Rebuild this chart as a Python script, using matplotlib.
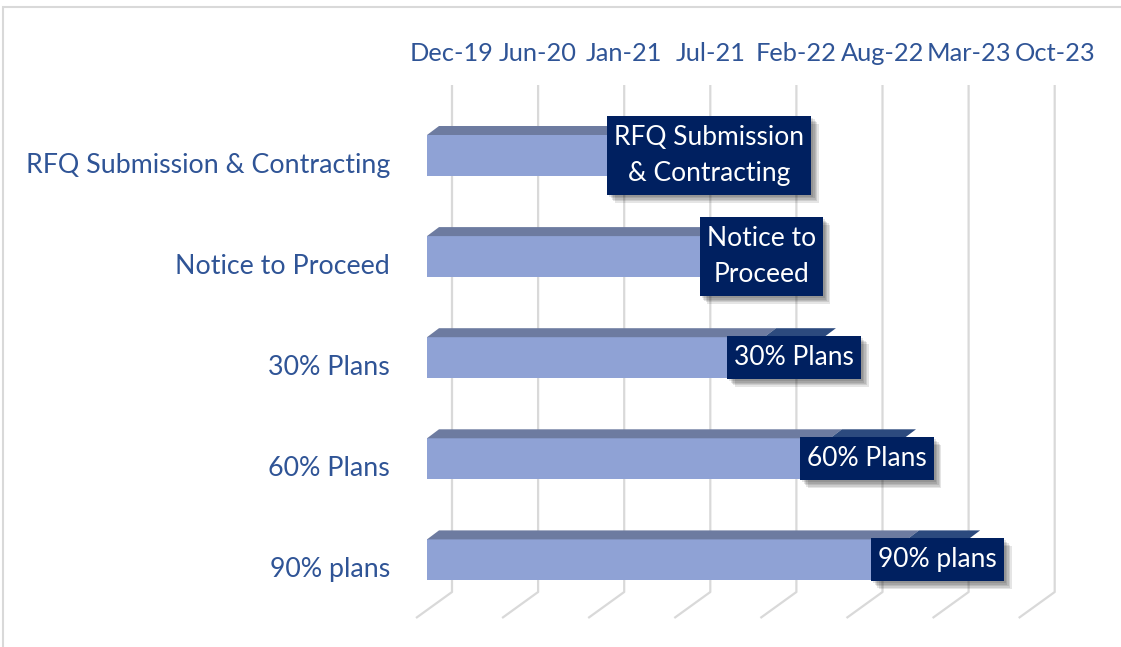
import matplotlib
matplotlib.use("Agg")
import matplotlib.pyplot as plt
import matplotlib.dates as mdates
import matplotlib.patheffects as pe
from matplotlib.patches import Polygon, Rectangle
from datetime import datetime

# ---- data -------------------------------------------------------------
categories = ["RFQ Submission & Contracting", "Notice to Proceed",
              "30% Plans", "60% Plans", "90% plans"]
bar_labels = ["RFQ Submission\n& Contracting", "Notice to\nProceed",
              "30% Plans", "60% Plans", "90% plans"]
start_dates = ["2021-05-26", "2022-01-08", "2022-01-22", "2022-06-24", "2022-12-20"]
end_dates = ["2022-01-08", "2022-01-22", "2022-06-10", "2022-12-13", "2023-05-11"]
tick_labels = ["Dec-19", "Jun-20", "Jan-21", "Jul-21",
               "Feb-22", "Aug-22", "Mar-23", "Oct-23"]
axis_min = "2019-12-01"
major_unit = 200  # days

# ---- style ------------------------------------------------------------
FONT = ["Lato", "DejaVu Sans"]
TXT_BLUE = "#2F5496"
LIGHT_FRONT = "#8FA2D5"
LIGHT_TOP = "#6D7BA0"
DARK_FRONT = "#1F3864"
DARK_TOP = "#2C4A7E"
LABEL_BG = "#002060"
GRID = "#D9D9D9"

W, H = 1121, 647
PX_DAY = 86.1 / major_unit     # pixels per day
PX_CAT = 101.1                 # pixels per category
Y0_PX = 155.5                  # pixel centre of first bar front face
WALL_X_PX = 452                # back wall position of axis_min


def dx(px):
    return px / PX_DAY


def dy(px):
    return px / PX_CAT


def d2n(s):
    return mdates.date2num(datetime.strptime(s, "%Y-%m-%d"))


fig = plt.figure(figsize=(W / 100, H / 100), dpi=100)
ax = fig.add_axes([0, 0, 1, 1])
ax.axis("off")

x_min = d2n(axis_min)
ax.set_xlim(x_min - dx(WALL_X_PX), x_min + dx(W - WALL_X_PX))
ax.set_ylim(dy(H - Y0_PX), -dy(Y0_PX))

# chart frame
fig.add_artist(Rectangle((3 / W, -0.1), 1.2, (H - 7) / H + 0.1,
                         transform=fig.transFigure, fill=False,
                         ec=GRID, lw=1.5))

# back wall gridlines + floor diagonals
front_shift = dx(25)   # bar front plane sits 25px left of the wall
bar_h = dy(41)
top_dx, top_dy = dx(12), -dy(9)
grid_top, grid_bot = dy(85 - Y0_PX), dy(592 - Y0_PX)
floor_front = dy(618 - Y0_PX)
ticks = [x_min + major_unit * k for k in range(len(tick_labels))]
for t, lab in zip(ticks, tick_labels):
    ax.plot([t, t, t - dx(36)], [grid_top, grid_bot, floor_front],
            color=GRID, lw=1.6, zorder=1, solid_capstyle="butt")
    ax.text(t, dy(53 - Y0_PX), lab, ha="center", va="center",
            fontsize=18.3, color=TXT_BLUE, family=FONT)

# bars
ys = list(range(len(categories)))
starts = [d2n(s) for s in start_dates]
ends = [d2n(s) for s in end_dates]
label_texts = []
for y, cat, lab, s, e in zip(ys, categories, bar_labels, starts, ends):
    # light part from axis minimum to start, dark part from start to end
    for left, right, fc, tc in [(x_min, s, LIGHT_FRONT, LIGHT_TOP),
                                (s, e, DARK_FRONT, DARK_TOP)]:
        l, r = left - front_shift, right - front_shift
        ax.barh(y, r - l, left=l, height=bar_h, color=fc, zorder=2)
        top = y - bar_h / 2
        ax.add_patch(Polygon([(l, top), (r, top), (r + top_dx, top + top_dy),
                              (l + top_dx, top + top_dy)],
                             closed=True, fc=tc, ec="none", zorder=2))
    # category label on the left
    ax.text(x_min - front_shift - dx(37), y + dy(10), cat, ha="right",
            va="center", fontsize=19.3, color=TXT_BLUE, family=FONT)
    # data label text (box added after layout is known)
    cx = (s + e) / 2 - front_shift
    label_texts.append(ax.text(cx, y, lab, ha="center", va="center",
                               fontsize=19, color="white", family=FONT,
                               zorder=4, linespacing=1.55))

# navy label boxes sized from the rendered text
fig.canvas.draw()
inv = ax.transData.inverted()
pad_x, pad_y = 7, 9
for t in label_texts:
    bb = t.get_window_extent()
    (x0, y0), (x1, y1) = inv.transform([(bb.x0 - pad_x, bb.y0 - pad_y),
                                         (bb.x1 + pad_x, bb.y1 + pad_y)])
    box = Rectangle((x0, min(y0, y1)), x1 - x0, abs(y1 - y0),
                    fc=LABEL_BG, ec="none", zorder=3)
    box.set_path_effects(
        [pe.SimplePatchShadow(offset=(o, -o), shadow_rgbFace="black", alpha=0.1)
         for o in (1.5, 2.5, 3.5, 4.5, 5.5)] + [pe.Normal()])
    ax.add_patch(box)

fig.savefig("out.png", dpi=100)
